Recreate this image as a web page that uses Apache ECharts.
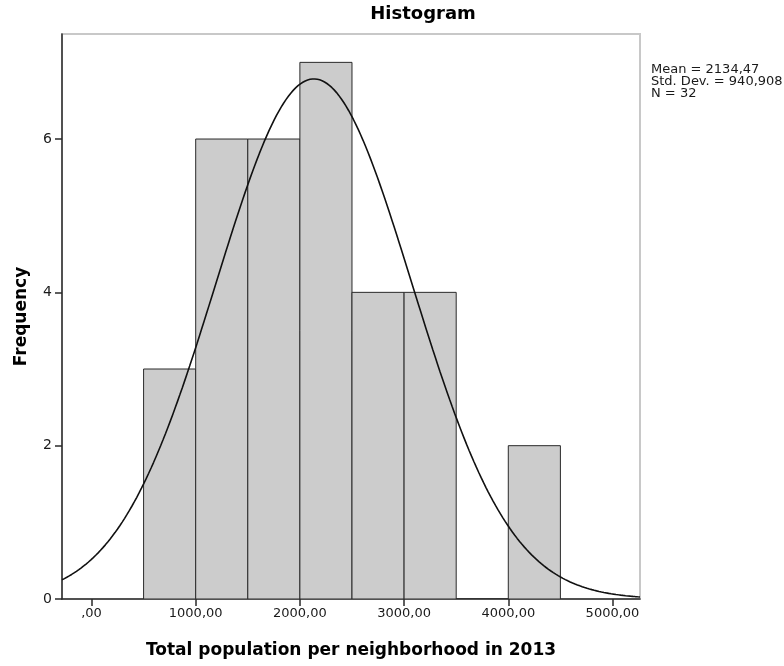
<!DOCTYPE html>
<html>
<head>
<meta charset="utf-8">
<title>Histogram</title>
<script src="https://cdn.jsdelivr.net/npm/echarts@6/dist/echarts.min.js"></script>
<style>
  html, body { margin: 0; padding: 0; background: #ffffff; }
  #chart { width: 784px; height: 666px; }
</style>
</head>
<body>
<div id="chart"></div>
<script>
// Histogram bins: lower edge of each 500-wide bin and its frequency
const binWidth = 500;
const binStarts = [500, 1000, 1500, 2000, 2500, 3000, 3500, 4000];
const binCounts = [3, 6, 6, 7, 4, 4, 0, 2];

// Summary statistics of the variable
const statMean = 2134.47;
const statStdDev = 940.908;
const statN = 32;
const statLines = ['Mean = 2134,47', 'Std. Dev. = 940,908', 'N = 32'];

// Axis ticks and labels
const xTickValues = [0, 1000, 2000, 3000, 4000, 5000];
const xTickLabels = [',00', '1000,00', '2000,00', '3000,00', '4000,00', '5000,00'];
const yTickValues = [0, 2, 4, 6];
const xMin = -283;
const xMax = 5264;
const yMax = 7.37;

// Fitted normal curve scaled to the histogram's counts (N * bin width * pdf)
const normalFit = [];
const curveSteps = 240;
for (let i = 0; i <= curveSteps; i++) {
  const x = xMin + (xMax - xMin) * i / curveSteps;
  const z = (x - statMean) / statStdDev;
  const y = statN * binWidth * Math.exp(-0.5 * z * z) / (statStdDev * Math.sqrt(2 * Math.PI));
  normalFit.push([x, y]);
}

const barData = binStarts.map((s, i) => [s, s + binWidth, binCounts[i]]);

const chart = echarts.init(document.getElementById('chart'), null, { renderer: 'canvas' });

const axisFont = 'DejaVu Sans';

chart.setOption({
  animation: false,
  backgroundColor: '#ffffff',
  grid: {
    left: 62, right: 144, top: 34, bottom: 67,
    show: true,
    borderColor: '#c8c8c8',
    borderWidth: 2,
    backgroundColor: '#ffffff'
  },
  xAxis: {
    type: 'value',
    min: xMin,
    max: xMax,
    name: 'Total population per neighborhood in 2013',
    nameLocation: 'middle',
    nameGap: 43,
    nameTextStyle: { fontFamily: axisFont, fontWeight: 'bold', fontSize: 17, color: '#000000' },
    axisLine: { show: true, onZero: false, lineStyle: { color: '#2a2a2a', width: 1.5 } },
    axisTick: { show: true, length: 7, customValues: xTickValues, lineStyle: { color: '#2a2a2a', width: 1.5 } },
    axisLabel: {
      customValues: xTickValues,
      margin: 8,
      fontFamily: axisFont,
      fontSize: 13,
      color: '#1a1a1a',
      formatter: (v) => {
        const idx = xTickValues.indexOf(v);
        return idx >= 0 ? xTickLabels[idx] : '';
      }
    },
    splitLine: { show: false }
  },
  yAxis: {
    type: 'value',
    min: 0,
    max: yMax,
    name: 'Frequency',
    nameLocation: 'middle',
    nameGap: 32,
    nameTextStyle: { fontFamily: axisFont, fontWeight: 'bold', fontSize: 17, color: '#000000' },
    axisLine: { show: true, onZero: false, lineStyle: { color: '#2a2a2a', width: 1.5 } },
    axisTick: { show: true, length: 7, customValues: yTickValues, lineStyle: { color: '#2a2a2a', width: 1.5 } },
    axisLabel: {
      customValues: yTickValues,
      margin: 10,
      fontFamily: axisFont,
      fontSize: 14,
      color: '#1a1a1a'
    },
    splitLine: { show: false }
  },
  graphic: [
    {
      type: 'text',
      x: 423,
      y: 14,
      style: {
        text: 'Histogram',
        fontFamily: axisFont,
        fontWeight: 'bold',
        fontSize: 18,
        fill: '#000000',
        textAlign: 'center',
        textVerticalAlign: 'middle'
      }
    },
    {
      type: 'text',
      x: 651,
      y: 64,
      style: {
        text: statLines.join('\n'),
        fontFamily: axisFont,
        fontSize: 13,
        lineHeight: 12,
        fill: '#1a1a1a',
        textAlign: 'left',
        textVerticalAlign: 'top'
      }
    }
  ],
  series: [
    {
      type: 'custom',
      name: 'Frequency',
      data: barData,
      encode: { x: [0, 1], y: 2 },
      clip: true,
      renderItem: (params, api) => {
        const p0 = api.coord([api.value(0), api.value(2)]);
        const p1 = api.coord([api.value(1), 0]);
        return {
          type: 'rect',
          shape: { x: p0[0], y: p0[1], width: p1[0] - p0[0], height: p1[1] - p0[1] },
          style: { fill: '#cccccc', stroke: '#2a2a2a', lineWidth: 1 }
        };
      },
      z: 2
    },
    {
      type: 'line',
      name: 'Normal',
      data: normalFit,
      showSymbol: false,
      smooth: false,
      lineStyle: { color: '#111111', width: 1.6 },
      z: 3
    }
  ]
});
</script>
</body>
</html>
